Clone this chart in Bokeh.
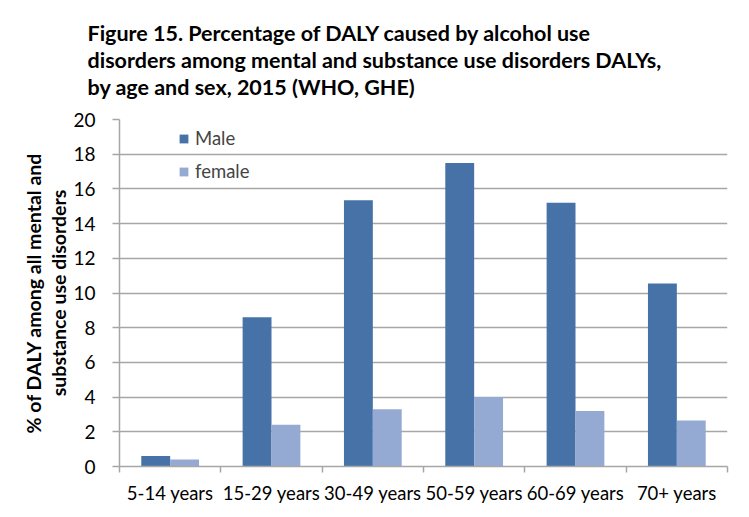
from bokeh.plotting import figure
from bokeh.models import ColumnDataSource, FixedTicker, Legend, LegendItem, Range1d
from bokeh.embed import file_html
from bokeh.resources import INLINE
import numpy as np

categories = ["5-14 years", "15-29 years", "30-49 years", "50-59 years", "60-69 years", "70+ years"]
male = [0.6, 8.6, 15.35, 17.5, 15.2, 10.55]
female = [0.4, 2.4, 3.3, 4.0, 3.2, 2.65]
y_ticks = [0, 2, 4, 6, 8, 10, 12, 14, 16, 18, 20]

MALE_C = "#4672A8"
FEMALE_C = "#95AAD2"
GRID_C = "#A6A6A6"
FONT = "Lato"

idx = np.arange(len(categories))
bar_w = 0.285
src = ColumnDataSource(dict(
    xm=idx + 0.5 - bar_w / 2,
    xf=idx + 0.5 + bar_w / 2,
    male=male,
    female=female,
))

W, H = 741, 509
BL, BR, BB, BT = 119, 14, 43, 119
p = figure(width=W, height=H, output_backend="svg", toolbar_location=None,
           x_range=Range1d(0, len(categories)), y_range=Range1d(0, 20),
           min_border_left=BL, min_border_right=BR, min_border_bottom=BB,
           min_border_top=BT)
frame_h = H - BT - BB

p.title.text = ("Figure 15. Percentage of DALY caused by alcohol use\n"
                "disorders among mental and substance use disorders DALYs,\n"
                "by age and sex, 2015 (WHO, GHE)")
p.title.text_font = FONT
p.title.text_font_style = "bold"
p.title.text_font_size = "21.5px"
p.title.text_line_height = 1.05
p.title.align = "left"
p.title.vertical_align = "top"
p.title.offset = -32
p.title.standoff = 34
p.title.text_color = "#000000"

rm = p.vbar(x="xm", top="male", width=bar_w, source=src, fill_color=MALE_C, line_color=None)
rf = p.vbar(x="xf", top="female", width=bar_w, source=src, fill_color=FEMALE_C, line_color=None)

p.outline_line_color = None
p.xgrid.grid_line_color = None
p.ygrid.grid_line_color = GRID_C
p.ygrid.grid_line_width = 1.5
p.ygrid.ticker = FixedTicker(ticks=y_ticks)

yax = p.yaxis[0]
yax.ticker = FixedTicker(ticks=y_ticks)
yax.axis_line_color = GRID_C
yax.axis_line_width = 1.5
yax.major_tick_line_color = GRID_C
yax.major_tick_line_width = 1.5
yax.major_tick_in = 0
yax.major_tick_out = 7
yax.minor_tick_line_color = None
yax.major_label_text_font = FONT
yax.major_label_text_font_size = "19px"
yax.major_label_text_color = "#000000"
yax.major_label_standoff = 17
yax.axis_label = "% of DALY among all mental and\nsubstance use disorders"
yax.axis_label_text_font = FONT
yax.axis_label_text_font_style = "bold"
yax.axis_label_text_font_size = "19.5px"
yax.axis_label_text_line_height = 1.1
yax.axis_label_text_color = "#000000"
yax.axis_label_standoff = 0

xax = p.xaxis[0]
centers = list(idx + 0.5)
xax.ticker = FixedTicker(ticks=centers, minor_ticks=list(range(len(categories) + 1)))
xax.major_label_overrides = {float(c): lab for c, lab in zip(centers, categories)}
xax.axis_line_color = GRID_C
xax.axis_line_width = 1.5
xax.major_tick_line_color = None
xax.major_tick_out = 0
xax.major_tick_in = 0
xax.minor_tick_line_color = GRID_C
xax.minor_tick_line_width = 1.5
xax.minor_tick_in = 0
xax.minor_tick_out = 6
xax.major_label_text_font = FONT
xax.major_label_text_font_size = "18.5px"
xax.major_label_text_color = "#000000"
xax.major_label_standoff = 9

legend = Legend(items=[LegendItem(label="Male", renderers=[rm]),
                       LegendItem(label="female", renderers=[rf])],
                location=(59, frame_h - 8 - 55), padding=0, margin=0, spacing=11,
                glyph_width=11, glyph_height=11, label_standoff=6,
                label_text_font=FONT, label_text_font_size="18.5px",
                border_line_color=None, background_fill_alpha=0)
p.add_layout(legend)

open("out.html", "w").write(file_html(p, INLINE))
